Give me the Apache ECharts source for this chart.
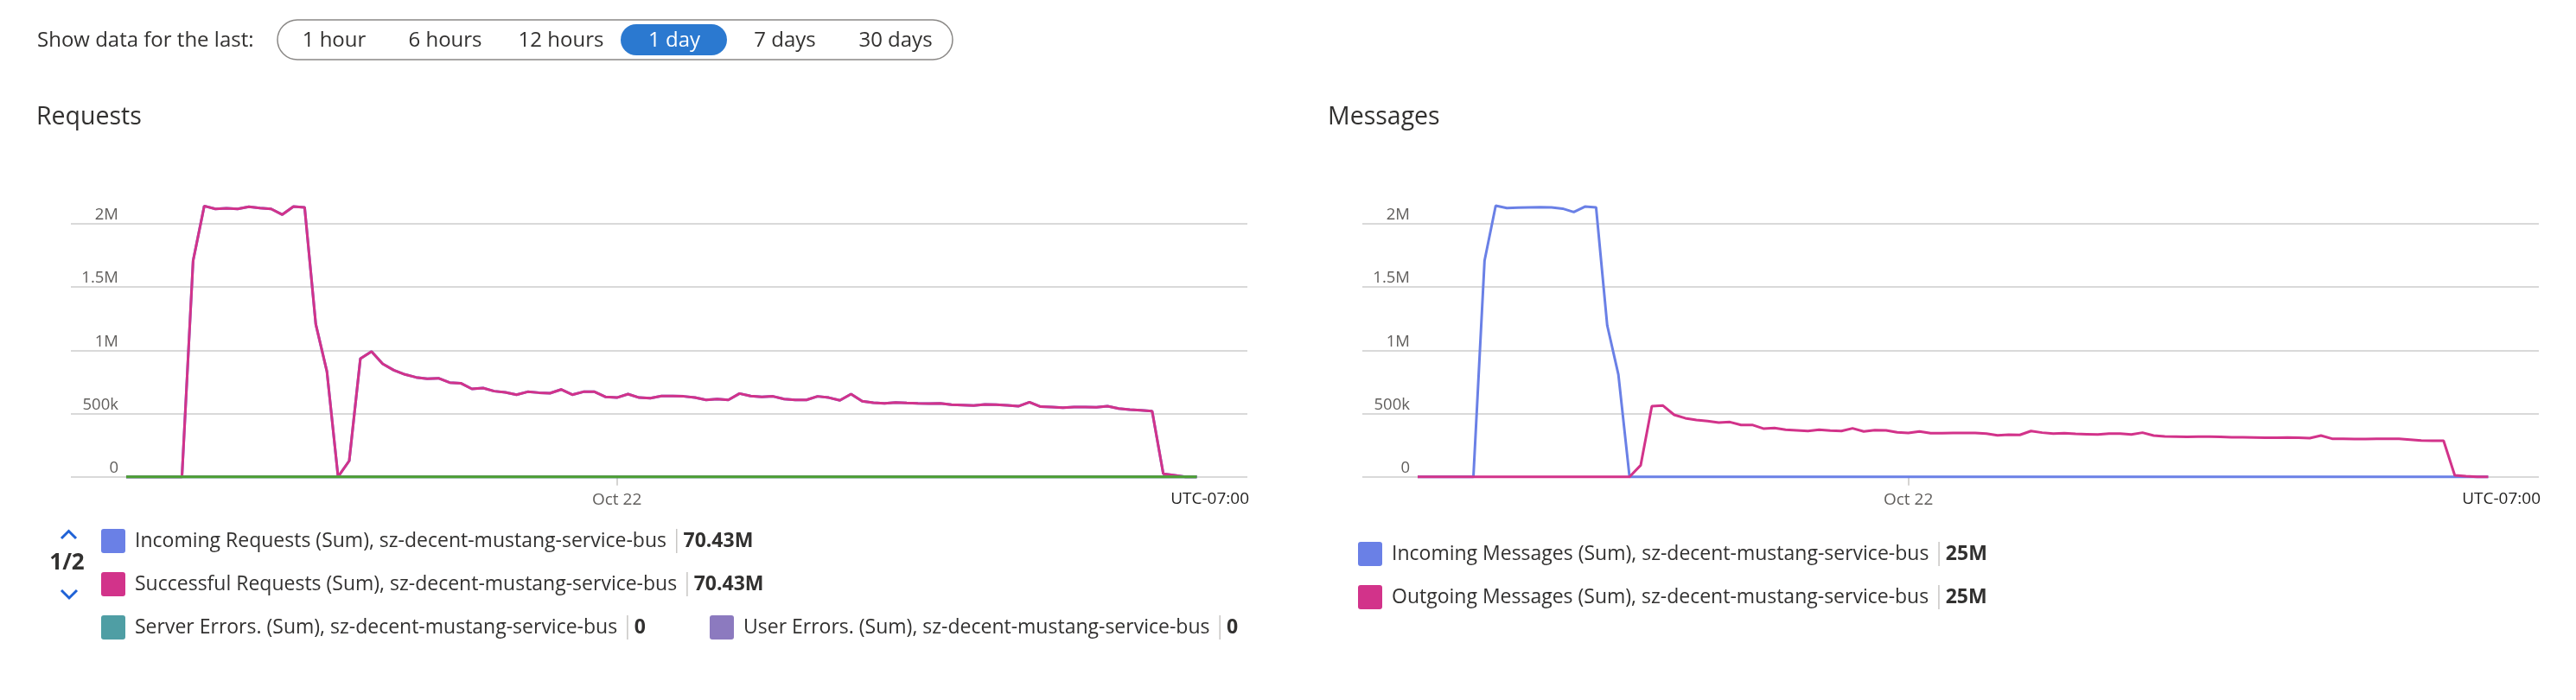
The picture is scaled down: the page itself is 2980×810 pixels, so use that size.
<!DOCTYPE html>
<html>
<head>
<meta charset="utf-8">
<script src="https://cdn.jsdelivr.net/npm/echarts@6/dist/echarts.min.js"></script>
<style>
  html, body { margin: 0; padding: 0; background: #ffffff; }
  #chart { width: 2980px; height: 810px; }
</style>
</head>
<body>
<div id="chart"></div>
<script>
// ---------------- data ----------------
const rangeOptions = ['1 hour', '6 hours', '12 hours', '1 day', '7 days', '30 days'];
const selectedRange = '1 day';
const headerLabel = 'Show data for the last:';
const chartTitles = ['Requests', 'Messages'];
const yTickLabels = ['0', '500k', '1M', '1.5M', '2M'];   // every 500k
const xTickSlot = 44;            // 15-minute slot of midnight
const xTickLabel = 'Oct 22';
const timezoneLabel = 'UTC-07:00';
const pagerLabel = '1/2';

const requestNames = [
  'Incoming Requests (Sum), sz-decent-mustang-service-bus',
  'Successful Requests (Sum), sz-decent-mustang-service-bus',
  'Server Errors. (Sum), sz-decent-mustang-service-bus',
  'User Errors. (Sum), sz-decent-mustang-service-bus',
  'Throttled Requests. (Sum), sz-decent-mustang-service-bus'
];
const requestTotals = ['70.43M', '70.43M', '0', '0', '0'];
const messageNames = [
  'Incoming Messages (Sum), sz-decent-mustang-service-bus',
  'Outgoing Messages (Sum), sz-decent-mustang-service-bus'
];
const messageTotals = ['25M', '25M'];

// values in thousands, one per 15-minute slot (97 slots)
const incomingRequests = [0,0,0,0,0,0,1708,2141,2118,2123,
  2118,2135,2125,2118,2073,2137,2130,1207,832,0,
  126,934,991,893,843,809,786,775,779,745,
  740,695,702,677,667,649,672,665,661,690,
  649,672,672,631,626,654,626,622,638,638,
  636,626,608,615,608,658,638,631,636,615,
  608,608,636,626,604,654,597,585,581,588,
  584,581,579,581,570,567,563,572,570,565,
  558,590,554,551,547,551,551,549,558,540,
  531,526,519,23,12,0,0];
const successfulRequests = [0,0,0,0,0,0,1708,2141,2118,2123,
  2118,2135,2125,2118,2073,2137,2130,1207,832,0,
  126,934,991,893,843,809,786,775,779,745,
  740,695,702,677,667,649,672,665,661,690,
  649,672,672,631,626,654,626,622,638,638,
  636,626,608,615,608,658,638,631,636,615,
  608,608,636,626,604,654,597,585,581,588,
  584,581,579,581,570,567,563,572,570,565,
  558,590,554,551,547,551,551,549,558,540,
  531,526,519,23,12,0,0];
const serverErrors = [0,0,0,0,0,0,0,0,0,0, 0,0,0,0,0,0,0,0,0,0, 0,0,0,0,0,0,0,0,0,0,
  0,0,0,0,0,0,0,0,0,0, 0,0,0,0,0,0,0,0,0,0, 0,0,0,0,0,0,0,0,0,0,
  0,0,0,0,0,0,0,0,0,0, 0,0,0,0,0,0,0,0,0,0, 0,0,0,0,0,0,0,0,0,0, 0,0,0,0,0,0,0];
const userErrors = [0,0,0,0,0,0,0,0,0,0, 0,0,0,0,0,0,0,0,0,0, 0,0,0,0,0,0,0,0,0,0,
  0,0,0,0,0,0,0,0,0,0, 0,0,0,0,0,0,0,0,0,0, 0,0,0,0,0,0,0,0,0,0,
  0,0,0,0,0,0,0,0,0,0, 0,0,0,0,0,0,0,0,0,0, 0,0,0,0,0,0,0,0,0,0, 0,0,0,0,0,0,0];
const throttledRequests = [0,0,0,0,0,0,0,0,0,0, 0,0,0,0,0,0,0,0,0,0, 0,0,0,0,0,0,0,0,0,0,
  0,0,0,0,0,0,0,0,0,0, 0,0,0,0,0,0,0,0,0,0, 0,0,0,0,0,0,0,0,0,0,
  0,0,0,0,0,0,0,0,0,0, 0,0,0,0,0,0,0,0,0,0, 0,0,0,0,0,0,0,0,0,0, 0,0,0,0,0,0,0];
const incomingMessages = [0,0,0,0,0,0,1710,2143,2125,2128,
  2130,2132,2130,2120,2093,2136,2130,1197,809,0,
  0,0,0,0,0,0,0,0,0,0, 0,0,0,0,0,0,0,0,0,0, 0,0,0,0,0,0,0,0,0,0,
  0,0,0,0,0,0,0,0,0,0, 0,0,0,0,0,0,0,0,0,0, 0,0,0,0,0,0,0,0,0,0,
  0,0,0,0,0,0,0,0,0,0, 0,0,0,0,0,0,0];
const outgoingMessages = [0,0,0,0,0,0,0,0,0,0,
  0,0,0,0,0,0,0,0,0,0,
  91,558,563,490,463,449,440,428,433,410,
  410,381,385,372,367,362,372,365,362,383,
  358,369,367,351,346,358,344,344,346,346,
  346,342,328,333,331,362,349,342,344,339,
  337,335,342,342,335,349,326,319,317,315,
  317,317,315,312,312,310,308,308,310,308,
  306,326,301,301,299,299,301,301,301,294,
  287,285,285,12,4,0,0];

// ---------------- styling ----------------
const FONT = "'Segoe UI', 'Open Sans', 'Noto Sans', sans-serif";
const C_BLUE = '#6a80e6', C_MAGENTA = '#d2338a', C_TEAL = '#4f9ea4',
      C_PURPLE = '#8c7abf', C_GREEN = '#4ca032';
const TEXT = '#323130', AXIS_TEXT = '#605e5c';
const ICON = 'path://M3,0H25A3,3,0,0,1,28,3V25A3,3,0,0,1,25,28H3A3,3,0,0,1,0,25V3A3,3,0,0,1,3,0Z';

const GRID_W = 1361, GRID_TOP = 259, GRID_H = 292.7;
const grids = [
  { left: 82, top: GRID_TOP, width: GRID_W, height: GRID_H },
  { left: 1576, top: GRID_TOP, width: GRID_W, height: GRID_H }
];

function xAxis(gi) {
  return {
    gridIndex: gi, type: 'value', min: -4.96, max: 100.54,
    axisLine: { show: false }, splitLine: { show: false },
    axisTick: { show: true, customValues: [xTickSlot], length: 10, lineStyle: { color: '#c8c6c4', width: 1.5 } },
    axisLabel: { customValues: [xTickSlot], formatter: () => xTickLabel, margin: 17,
                 fontSize: 19, color: AXIS_TEXT, fontFamily: FONT }
  };
}
function yAxis(gi) {
  return {
    gridIndex: gi, type: 'value', min: 0, max: 2000000, interval: 500000,
    axisLine: { show: false }, axisTick: { show: false },
    splitLine: { lineStyle: { color: '#cccccc', width: 1.5 } },
    axisLabel: { inside: true, align: 'right', margin: 55, verticalAlign: 'bottom',
                 lineHeight: 20, fontSize: 18.5, color: AXIS_TEXT, fontFamily: FONT,
                 formatter: v => yTickLabels[Math.round(v / 500000)] }
  };
}
function line(name, values, color, gi) {
  return {
    type: 'line', name, xAxisIndex: gi, yAxisIndex: gi,
    data: values.map((v, i) => [i, v * 1000]),
    symbol: 'none', showSymbol: false, clip: false, smooth: false,
    lineStyle: { width: 3, color }, itemStyle: { color },
    emphasis: { disabled: true }
  };
}

const totalsByName = {};
requestNames.forEach((n, i) => totalsByName[n] = requestTotals[i]);
messageNames.forEach((n, i) => totalsByName[n] = messageTotals[i]);

function legendItem(name, left, top) {
  return {
    data: [name], left, top, orient: 'horizontal', padding: 0,
    itemWidth: 28, itemHeight: 28, icon: ICON, selectedMode: false,
    itemStyle: { borderWidth: 0 },
    formatter: n => '{n|' + n + '}{s| }{v|' + totalsByName[n] + '}',
    textStyle: {
      rich: {
        n: { fontSize: 23, fontFamily: FONT, color: TEXT, lineHeight: 28, padding: [0, 11, 0, 6] },
        s: { width: 1.5, height: 28, backgroundColor: '#c8c6c4', fontSize: 10 },
        v: { fontSize: 23, fontFamily: FONT, fontWeight: 'bold', color: TEXT, lineHeight: 28, padding: [0, 0, 0, 7] }
      }
    }
  };
}

const optionCenters = [386.5, 515, 649, 780, 908, 1036];
const graphics = [
  { type: 'text', x: 43, y: 47, style: { text: headerLabel, fontSize: 24, fontFamily: FONT, fill: TEXT, align: 'left', verticalAlign: 'middle' } },
  { type: 'rect', shape: { x: 321, y: 23, width: 781, height: 46, r: 23 }, style: { fill: 'transparent', stroke: '#8a8886', lineWidth: 1.5 } },
  { type: 'rect', shape: { x: 718, y: 28, width: 123, height: 36, r: 18 }, style: { fill: '#2b79d0' } }
];
rangeOptions.forEach((t, i) => {
  graphics.push({ type: 'text', x: optionCenters[i], y: 47,
    style: { text: t, fontSize: 24, fontFamily: FONT, fill: t === selectedRange ? '#ffffff' : TEXT, align: 'center', verticalAlign: 'middle' } });
});
[42, 1536].forEach((x, i) => graphics.push({ type: 'text', x, y: 136,
  style: { text: chartTitles[i], fontSize: 28.5, fontFamily: FONT, fill: TEXT, align: 'left', verticalAlign: 'middle' } }));
[1445, 2939].forEach(x => graphics.push({ type: 'text', x, y: 578,
  style: { text: timezoneLabel, fontSize: 19, fontFamily: FONT, fill: '#201f1e', align: 'right', verticalAlign: 'middle' } }));
graphics.push(
  { type: 'polyline', shape: { points: [[71, 623], [79.5, 614.5], [88, 623]] }, style: { fill: null, stroke: '#1f62d6', lineWidth: 3 } },
  { type: 'text', x: 77.5, y: 652, style: { text: pagerLabel, fontSize: 26, fontWeight: 'bold', fontFamily: FONT, fill: TEXT, align: 'center', verticalAlign: 'middle' } },
  { type: 'polyline', shape: { points: [[71, 683], [80, 692], [89, 683]] }, style: { fill: null, stroke: '#1f62d6', lineWidth: 3 } }
);

const option = {
  backgroundColor: '#ffffff',
  animation: false,
  grid: grids,
  xAxis: [xAxis(0), xAxis(1)],
  yAxis: [yAxis(0), yAxis(1)],
  legend: [
    legendItem(requestNames[0], 117, 612),
    legendItem(requestNames[1], 117, 662),
    legendItem(requestNames[2], 117, 712),
    legendItem(requestNames[3], 821, 712),
    legendItem(messageNames[0], 1571, 627),
    legendItem(messageNames[1], 1571, 677)
  ],
  series: [
    line(requestNames[0], incomingRequests, C_BLUE, 0),
    line(requestNames[1], successfulRequests, C_MAGENTA, 0),
    line(requestNames[2], serverErrors, C_TEAL, 0),
    line(requestNames[3], userErrors, C_PURPLE, 0),
    line(requestNames[4], throttledRequests, C_GREEN, 0),
    line(messageNames[0], incomingMessages, C_BLUE, 1),
    line(messageNames[1], outgoingMessages, C_MAGENTA, 1)
  ],
  graphic: graphics
};

const chart = echarts.init(document.getElementById('chart'), null, { renderer: 'canvas' });
chart.setOption(option);
</script>
</body>
</html>
